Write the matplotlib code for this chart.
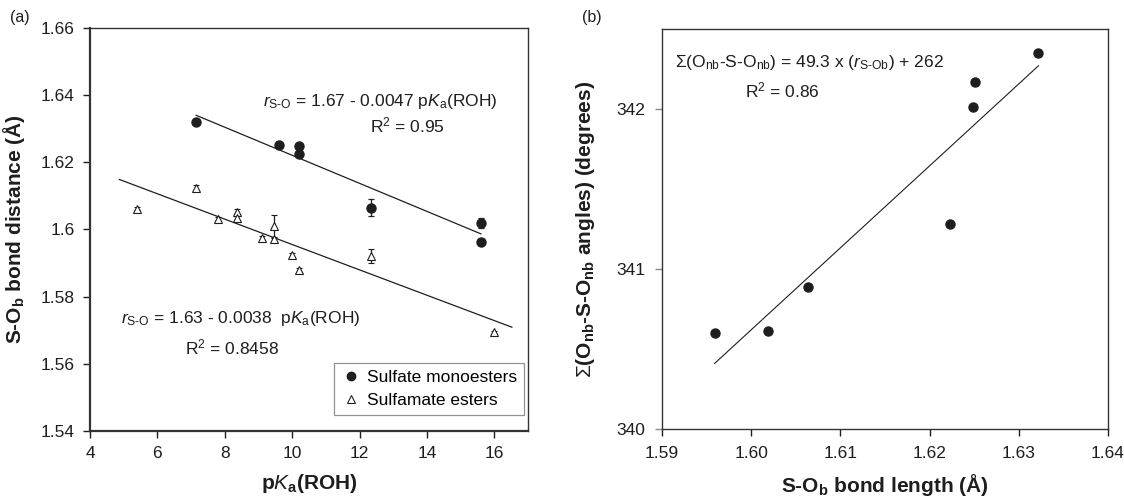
import matplotlib
matplotlib.use("Agg")
import matplotlib.pyplot as plt
from matplotlib.lines import Line2D

plt.rcParams["font.family"] = ["Liberation Sans", "DejaVu Sans"]
plt.rcParams["mathtext.fontset"] = "custom"
plt.rcParams["mathtext.rm"] = "Liberation Sans"
plt.rcParams["mathtext.it"] = "Liberation Sans:italic"
plt.rcParams["mathtext.bf"] = "Liberation Sans:bold"

INK = "#1e1e1e"

# panel (a): sulfate monoesters
sulfate_pka = [7.15, 9.6, 10.2, 10.2, 12.35, 15.6, 15.6]
sulfate_dist = [1.6321, 1.6251, 1.6249, 1.6224, 1.6065, 1.6020, 1.5962]
sulfate_err = [0.0007, 0.0004, 0.0008, 0.0005, 0.0025, 0.0015, 0.0003]

# panel (a): sulfamate esters
sulfamate_pka = [5.4, 7.15, 7.8, 8.35, 8.35, 9.1, 9.45, 9.45, 10.0, 10.2, 12.35, 16.0]
sulfamate_dist = [1.6062, 1.6125, 1.6031, 1.6052, 1.6034, 1.5975, 1.5971, 1.6010,
                  1.5925, 1.5880, 1.5921, 1.5694]
sulfamate_err = [0.0005, 0.0006, 0.0006, 0.0008, 0.0006, 0.0006, 0.0005, 0.0032,
                 0.0006, 0.0006, 0.0022, 0.0005]

# regression lines (end points)
sulfate_fit_x = [7.15, 15.6]
sulfate_fit_y = [1.6340, 1.5987]
sulfamate_fit_x = [4.87, 16.52]
sulfamate_fit_y = [1.6149, 1.5709]

# panel (b)
bond_length = [1.5959, 1.6019, 1.6064, 1.6223, 1.6249, 1.6251, 1.6322]
angle_sum = [340.60, 340.61, 340.89, 341.28, 342.01, 342.17, 342.35]
b_fit_x = [1.5959, 1.6322]
b_fit_y = [340.41, 342.27]

a_xticks = [4, 6, 8, 10, 12, 14, 16]
a_yticks = [1.54, 1.56, 1.58, 1.60, 1.62, 1.64, 1.66]
a_yticklabels = ["1.54", "1.56", "1.58", "1.6", "1.62", "1.64", "1.66"]
b_xticks = [1.59, 1.60, 1.61, 1.62, 1.63, 1.64]
b_yticks = [340, 341, 342]

fig = plt.figure(figsize=(11.24, 4.99), dpi=100)
fig.patch.set_facecolor("white")

# ---------------- panel (a) ----------------
ax = fig.add_axes([0.0801, 0.1363, 0.3897, 0.8076])
ax.plot(sulfate_fit_x, sulfate_fit_y, color=INK, lw=0.9)
ax.plot(sulfamate_fit_x, sulfamate_fit_y, color=INK, lw=0.9)
ax.errorbar(sulfate_pka, sulfate_dist, yerr=sulfate_err, fmt="o", ms=6.5,
            color=INK, mfc=INK, mec=INK, ecolor=INK, elinewidth=0.9,
            capsize=2.5, capthick=0.9, zorder=3)
ax.errorbar(sulfamate_pka, sulfamate_dist, yerr=sulfamate_err, fmt="^", ms=5.5,
            color=INK, mfc="white", mec=INK, mew=0.8, ecolor=INK, elinewidth=0.9,
            capsize=2.5, capthick=0.9, zorder=3)

ax.set_xlim(4, 17)
ax.set_ylim(1.54, 1.66)
ax.set_xticks(a_xticks)
ax.set_yticks(a_yticks)
ax.set_yticklabels(a_yticklabels)
ax.tick_params(direction="out", length=5, width=1, labelsize=12.5, colors=INK, pad=6)
for s in ["left", "bottom"]:
    ax.spines[s].set_linewidth(1.6)
for s in ["top", "right"]:
    ax.spines[s].set_linewidth(1.0)
for s in ax.spines.values():
    s.set_color("#333333")

ax.set_xlabel(r"p$\mathbf{\mathit{K}}_{\mathbf{a}}$(ROH)", fontsize=15, fontweight="bold",
              color=INK, labelpad=8)
ax.set_ylabel(r"S-O$_\mathbf{b}$ bond distance (Å)", fontsize=15, fontweight="bold",
              color=INK, labelpad=10)

ax.text(0.395, 0.818, r"$r_{\mathrm{S}\text{-}\mathrm{O}}$ = 1.67 - 0.0047 p$K_\mathrm{a}$(ROH)",
        transform=ax.transAxes, fontsize=12.5, color=INK, ha="left", va="center")
ax.text(0.725, 0.758, r"R$^2$ = 0.95", transform=ax.transAxes, fontsize=12.5,
        color=INK, ha="center", va="center")
ax.text(0.07, 0.278, r"$r_{\mathrm{S}\text{-}\mathrm{O}}$ = 1.63 - 0.0038  p$K_\mathrm{a}$(ROH)",
        transform=ax.transAxes, fontsize=12.5, color=INK, ha="left", va="center")
ax.text(0.325, 0.208, r"R$^2$ = 0.8458", transform=ax.transAxes, fontsize=12.5,
        color=INK, ha="center", va="center")

handles = [
    Line2D([], [], ls="none", marker="o", ms=6, color=INK),
    Line2D([], [], ls="none", marker="^", ms=5.5, mfc="white", mec=INK, mew=0.8),
]
leg = ax.legend(handles, ["Sulfate monoesters", "Sulfamate esters"], loc="lower right",
                bbox_to_anchor=(0.99, 0.04), fontsize=12.5,
                frameon=True, fancybox=False, edgecolor="#777777",
                handletextpad=0.3, handlelength=1.2, borderpad=0.4,
                labelspacing=0.45, borderaxespad=0)
leg.get_frame().set_linewidth(0.9)

fig.text(0.009, 0.955, "(a)", fontsize=11.5, color=INK)

# ---------------- panel (b) ----------------
bx = fig.add_axes([0.589, 0.1403, 0.3968, 0.8016])
bx.plot(b_fit_x, b_fit_y, color=INK, lw=0.8)
bx.plot(bond_length, angle_sum, "o", ms=6.5, color=INK)
bx.set_xlim(1.59, 1.64)
bx.set_ylim(340, 342.5)
bx.set_xticks(b_xticks)
bx.set_xticklabels([f"{v:.2f}" for v in b_xticks])
bx.set_yticks(b_yticks)
bx.tick_params(direction="out", length=5, width=1, labelsize=12.5, colors=INK, pad=7)
bx.tick_params(axis="y", color="#888888")
for s in bx.spines.values():
    s.set_linewidth(1.0)
    s.set_color("#333333")

bx.set_xlabel(r"S-O$_\mathbf{b}$ bond length (Å)", fontsize=15, fontweight="bold",
              color=INK, labelpad=8)
bx.set_ylabel(r"$\Sigma$(O$_\mathbf{nb}$-S-O$_\mathbf{nb}$ angles) (degrees)", fontsize=15,
              fontweight="bold", color=INK, labelpad=14)

bx.text(0.03, 0.915,
        r"$\Sigma$(O$_\mathrm{nb}$-S-O$_\mathrm{nb}$) = 49.3 x ($r_{\mathrm{S}\text{-}\mathrm{Ob}}$) + 262",
        transform=bx.transAxes, fontsize=12.5, color=INK, ha="left", va="center")
bx.text(0.27, 0.847, r"R$^2$ = 0.86", transform=bx.transAxes, fontsize=12.5,
        color=INK, ha="center", va="center")

fig.text(0.518, 0.955, "(b)", fontsize=11.5, color=INK)

fig.savefig("out.png", dpi=100)
